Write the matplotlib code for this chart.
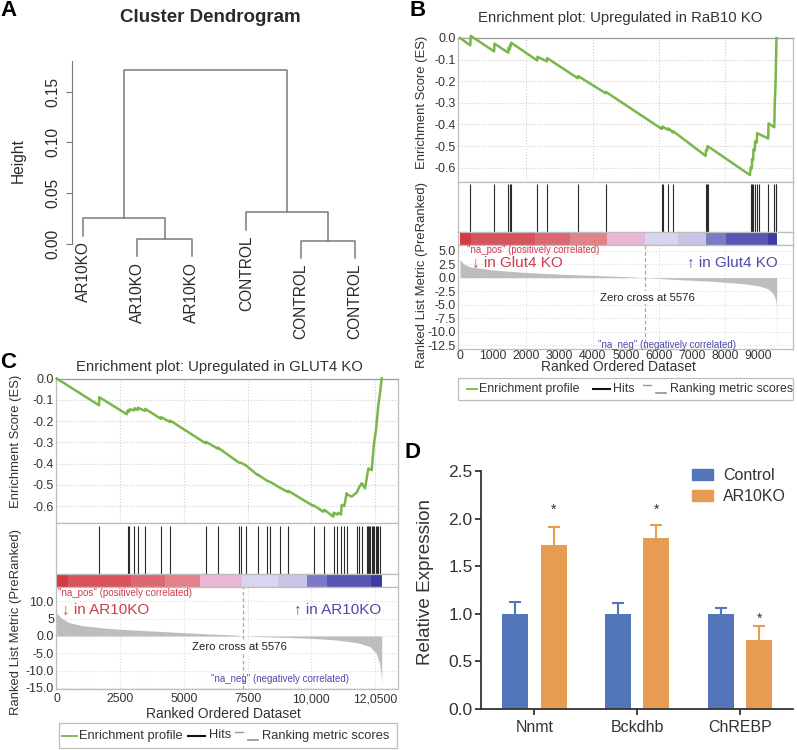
import numpy as np
import matplotlib
matplotlib.use("Agg")
import matplotlib.pyplot as plt
from matplotlib.patches import Rectangle, Patch

plt.rcParams['font.family'] = ['Liberation Sans', 'DejaVu Sans']

W, H = 797, 750

# ---------------- A: cluster dendrogram
dendro_labels = ["AR10KO", "AR10KO", "AR10KO", "CONTROL", "CONTROL", "CONTROL"]
# merge table like R hclust: negative = leaf, positive = earlier merge
dendro_merge = [(-2, -3), (-5, -6), (-1, 1), (-4, 2), (3, 4)]
dendro_height = [0.0046, 0.0027, 0.0251, 0.0310, 0.1711]
dendro_hang = 0.0171

# ---------------- B: GSEA, upregulated in RaB10 KO
b_es_rank = [0, 312, 322, 1030, 1040, 1455, 1465, 1505, 1515, 1535, 1545, 2330, 2340, 2620, 2630,
             3555, 3565, 4390, 4400, 6080, 6090, 6110, 6120, 6280, 6290, 6430, 6440, 7410, 7425,
             7455, 7470, 8750, 8771, 8805, 8815, 8845, 8855, 8895, 8905, 8955, 8966, 9300, 9310,
             9484, 9495, 9520, 9550]
b_es = [0.0, -0.034, 0.010, -0.062, -0.026, -0.068, -0.045, -0.052, -0.032, -0.035, -0.022,
        -0.104, -0.087, -0.108, -0.093, -0.186, -0.176, -0.255, -0.249, -0.420, -0.413, -0.417,
        -0.410, -0.425, -0.418, -0.437, -0.432, -0.545, -0.518, -0.520, -0.500, -0.634, -0.598,
        -0.602, -0.560, -0.565, -0.515, -0.520, -0.478, -0.483, -0.440, -0.465, -0.395, -0.413,
        -0.317, -0.216, 0.0]
b_hits = [312, 1036, 1459, 1509, 1539, 2333, 2625, 3561, 4395, 6085, 6116, 6286, 6437, 7413,
          7450, 7475, 8771, 8811, 8851, 8901, 8962, 9022, 9303, 9484, 9520, 9545]
b_metric_rank = [0, 100, 300, 1000, 2000, 3000, 4000, 5000, 5576, 6500, 7500, 8500, 9000, 9300,
                 9450, 9520, 9545, 9556]
b_metric = [3.37, 2.56, 1.98, 1.4, 0.93, 0.64, 0.41, 0.17, 0.0, -0.35, -0.64, -1.1, -1.5, -2.1,
            -3.0, -4.0, -4.9, -13.0]
b_bar_edges = [0, 332, 2263, 3320, 4446, 5582, 6588, 7423, 8027, 9285, 9556]
b_zero_cross = 5576

# ---------------- C: GSEA, upregulated in GLUT4 KO
c_es_rank = [0, 1661, 1673, 2750, 2789, 2851, 2860, 3048, 3060, 3181, 3190, 3468, 3480, 4097, 4105,
             4450, 4460, 5852, 5860, 6324, 6330, 7148, 7239, 7447, 7895, 7900, 8248, 8390, 8782,
             9097, 9110, 10079, 10106, 10472, 10511, 10864, 10880, 11021, 11061, 11166, 11194,
             11296, 11390, 11402, 11587, 11795, 11885, 11980, 12109, 12176, 12239, 12372, 12462,
             12541, 12632, 12698, 12765]
c_es = [0.0, -0.126, -0.088, -0.168, -0.150, -0.156, -0.145, -0.150, -0.140, -0.148, -0.138,
        -0.152, -0.143, -0.190, -0.182, -0.205, -0.198, -0.305, -0.298, -0.330, -0.325, -0.395,
        -0.397, -0.410, -0.455, -0.452, -0.480, -0.487, -0.515, -0.535, -0.530, -0.600, -0.598,
        -0.627, -0.618, -0.650, -0.632, -0.640, -0.632, -0.640, -0.595, -0.600, -0.540, -0.545,
        -0.556, -0.535, -0.510, -0.493, -0.517, -0.470, -0.423, -0.431, -0.305, -0.242, -0.125,
        -0.070, 0.0]
c_hits = [1673, 2789, 2851, 3048, 3181, 3468, 4097, 4450, 5852, 6324, 7148, 7239, 7447, 7895,
          8248, 8390, 8782, 9097, 10106, 10511, 10880, 11021, 11166, 11296, 11402, 11795, 11885,
          11980, 12176, 12227, 12278, 12320, 12390, 12430, 12474, 12530, 12580, 12632, 12687]
c_metric_rank = [0, 200, 500, 1000, 2000, 3000, 4000, 5000, 6000, 7000, 7330, 8000, 9000, 10000,
                 11000, 11800, 12300, 12550, 12680, 12740, 12765]
c_metric = [6.6, 5.1, 3.85, 3.0, 2.2, 1.73, 1.35, 0.96, 0.58, 0.29, 0.0, -0.2, -0.39, -0.67,
            -1.16, -1.93, -3.08, -5.0, -7.9, -10.8, -14.2]
c_bar_edges = [0, 432, 2918, 4254, 5640, 7290, 8704, 9831, 10617, 12345, 12760]
c_zero_cross = 7330

gsea_colors = ['#d23b45', '#d8535d', '#db6873', '#e08288', '#e9b7d3', '#d8d5ee', '#c8c4e5',
               '#7c79c5', '#5856b3', '#3d3aa2']

# ---------------- D: qPCR
genes = ["Nnmt", "Bckdhb", "ChREBP"]
control_mean = [1.0, 1.0, 1.0]
control_err = [0.12, 0.11, 0.06]
ko_mean = [1.72, 1.80, 0.725]
ko_err = [0.19, 0.13, 0.145]
star_y = [2.14, 2.14, 0.99]

GREEN = '#7ab648'
RED = '#d23a4c'
BLUE = '#4c4aa8'
FRAME = '#bdbdbd'


def px_box(x0, y0, x1, y1):
    return [x0 / W, 1 - y1 / H, (x1 - x0) / W, (y1 - y0) / H]


fig = plt.figure(figsize=(W / 100, H / 100), dpi=100)

# ---- A
axA = fig.add_axes(px_box(72, 55, 372, 262))
axA.set_xlim(0.798, 6.31)
axA.set_ylim(-0.018, 0.1862)
node_x, node_h = {}, {}
for k, ((a, b), h) in enumerate(zip(dendro_merge, dendro_height), start=1):
    pts = []
    for c in (a, b):
        if c < 0:
            pts.append((-c, h - dendro_hang))
        else:
            pts.append((node_x[c], node_h[c]))
    (xl, hl), (xr, hr) = pts
    axA.plot([xl, xl, xr, xr], [hl, h, h, hr], color='#7a7a7a', lw=1.1)
    node_x[k] = (xl + xr) / 2
    node_h[k] = h
    for c, (x, hc) in zip((a, b), pts):
        if c < 0:
            axA.annotate(dendro_labels[-c - 1], (x, hc), xytext=(0, -4), textcoords='offset points',
                         rotation=90, ha='center', va='top', fontsize=11.2, color='#2a2a2a')
for s in ['top', 'right', 'bottom']:
    axA.spines[s].set_visible(False)
axA.spines['left'].set_bounds(0, 0.18)
axA.spines['left'].set_color('#7a7a7a')
axA.set_xticks([])
axA.set_yticks([0.0, 0.05, 0.10, 0.15])
axA.set_yticklabels(['0.00', '0.05', '0.10', '0.15'])
axA.tick_params(axis='y', length=4, pad=4.5, color='#7a7a7a', labelsize=11.2, labelcolor='#2a2a2a')
for t in axA.get_yticklabels():
    t.set_rotation(90)
    t.set_va('center')
axA.patch.set_alpha(0)


# ---- GSEA panels
def gsea(x0, x1, ys, xlim, es_lim, es_rank, es, hits, m_rank, m_val, edges, zero_cross,
         m_lim, m_ticks, m_labels, x_ticks, x_labels, grid_x):
    es_top, es_bot, hit_bot, bar_bot, m_bot = ys
    ax1 = fig.add_axes(px_box(x0, es_top, x1, es_bot))
    ax2 = fig.add_axes(px_box(x0, es_bot, x1, hit_bot))
    ax3 = fig.add_axes(px_box(x0, hit_bot, x1, bar_bot))
    ax4 = fig.add_axes(px_box(x0, bar_bot, x1, m_bot))
    for ax in (ax1, ax2, ax3, ax4):
        ax.set_xlim(xlim)
        for s in ax.spines.values():
            s.set_color(FRAME)
            s.set_linewidth(0.9)
        ax.tick_params(length=0, labelsize=9, colors='#333333')

    ax1.plot(es_rank, es, color=GREEN, lw=1.8, clip_on=False, zorder=3)
    ax1.set_ylim(es_lim)
    ax1.spines['top'].set_color('#9a9a9a')
    ax1.set_yticks(np.arange(0, -0.65, -0.1))
    ax1.set_yticklabels(['0.0', '-0.1', '-0.2', '-0.3', '-0.4', '-0.5', '-0.6'])
    ax1.set_xticks(grid_x)
    ax1.tick_params(labelbottom=False, pad=1.5)
    ax1.grid(True, ls=':', color='#cfcfcf', lw=0.8)

    ax2.vlines(hits, 0, 0.95, color='#2a2a2a', lw=0.8)
    ax2.set_ylim(0, 1)
    ax2.set_xticks([])
    ax2.set_yticks([])

    for i in range(len(edges) - 1):
        ax3.axvspan(edges[i], edges[i + 1], color=gsea_colors[i], lw=0)
    ax3.set_xticks([])
    ax3.set_yticks([])

    ax4.fill_between(m_rank, m_val, 0, color='#bdbdbd', lw=0, zorder=2)
    ax4.axvline(zero_cross, ls=(0, (3, 2)), color='#a8a8a8', lw=0.9, zorder=1)
    for g in grid_x:
        ax4.axvline(g, ls=':', color='#dcdcdc', lw=0.8, zorder=0)
    ax4.set_ylim(m_lim)
    ax4.set_yticks(m_ticks)
    ax4.set_yticklabels(m_labels)
    ax4.yaxis.grid(True, ls=':', color='#dcdcdc', lw=0.8)
    ax4.set_axisbelow(True)
    ax4.set_xticks(x_ticks)
    ax4.set_xticklabels(x_labels)
    ax4.tick_params(pad=1.5, labelsize=9)
    ax4.tick_params(axis='x', labelsize=8.8)
    return ax4


axB4 = gsea(458, 793, (38, 181.7, 232.3, 245, 349), (-60, 10048), (-0.6647, 0.0),
            b_es_rank, b_es, b_hits, b_metric_rank, b_metric, b_bar_edges, b_zero_cross,
            (-13.2, 6.02), [5.0, 2.5, 0.0, -2.5, -5.0, -7.5, -10.0, -12.5],
            ['5.0', '2.5', '0.0', '-2.5', '-5.0', '-7.5', '-10.0', '-12.5'],
            list(range(0, 9001, 1000)), [str(v) for v in range(0, 9001, 1000)],
            [2000, 4000, 6000, 8000])
axB4.tick_params(axis='x', pad=0.5)

axC4 = gsea(56, 397.7, (378.5, 523.3, 574, 586.7, 689), (-27, 13393), (-0.6814, 0.0),
            c_es_rank, c_es, c_hits, c_metric_rank, c_metric, c_bar_edges, c_zero_cross,
            (-15.32, 14.25), [10.0, 5.0, 0.0, -5.0, -10.0, -15.0],
            ['10.0', '5', '0.0', '-5.0', '-10.0', '-15.0'],
            [0, 2500, 5000, 7500, 10000, 12500],
            ['0', '2500', '5000', '7500', '10,000', '12,0500'],
            [2500, 5000, 7500, 10000, 12500])
axC4.tick_params(axis='x', pad=3)

# ---- D
axD = fig.add_axes(px_box(481, 471, 793.3, 709))
x = np.arange(len(genes))
off, bw = 0.187, 0.252
c_blue, c_orange = '#5276b9', '#e69d52'
for pos, mean, err, col, lab in [(x - off, control_mean, control_err, c_blue, 'Control'),
                                  (x + off, ko_mean, ko_err, c_orange, 'AR10KO')]:
    cont = axD.bar(pos, mean, bw, color=col, label=lab, yerr=[np.zeros(3), err], capsize=4.4,
                   error_kw=dict(ecolor=col, elinewidth=1.5, capthick=1.5))
    caps = cont.errorbar.lines[1]
    caps[0].set_visible(False)   # one-sided bars: no lower cap
for xi, sy in zip(x, star_y):
    axD.annotate('*', (xi + off, sy), xytext=(0, -3), textcoords='offset points',
                 ha='center', va='center', fontsize=10, color='#333333')
axD.set_xlim(-0.52, 2.52)
axD.set_ylim(0, 2.5)
axD.set_yticks([0.0, 0.5, 1.0, 1.5, 2.0, 2.5])
axD.set_yticklabels(['0.0', '0.5', '1.0', '1.5', '2.0', '2.5'])
axD.set_xticks(x)
axD.set_xticklabels(genes)
for s in ['top', 'right']:
    axD.spines[s].set_visible(False)
for s in ['left', 'bottom']:
    axD.spines[s].set_color('#333333')
    axD.spines[s].set_linewidth(1.3)
axD.tick_params(axis='both', length=4, width=1.3, color='#333333', labelcolor='#333333')
axD.tick_params(axis='y', labelsize=12.5, pad=2)
axD.tick_params(axis='x', labelsize=11.5, pad=4)
axD.legend(handles=[Patch(color=c_blue, label='Control'), Patch(color=c_orange, label='AR10KO')],
           loc='upper left', bbox_to_anchor=(691.7 / W, 1 - 468 / H), bbox_transform=fig.transFigure,
           frameon=False, borderpad=0, borderaxespad=0, handlelength=1.35, handleheight=0.65,
           handletextpad=0.6, labelspacing=0.4, fontsize=11.5, labelcolor='#333333')

# ---- overlay: panel letters, titles, labels, GSEA legends
ov = fig.add_axes([0, 0, 1, 1])
ov.set_xlim(0, W)
ov.set_ylim(H, 0)
ov.axis('off')
ov.patch.set_alpha(0)

for letter, lx, ly in [('A', 9, 11), ('B', 418, 11), ('C', 8, 362.5), ('D', 413, 452)]:
    ov.text(lx, ly, letter, fontsize=16, fontweight='bold', ha='center', va='center')

ov.text(210, 17, 'Cluster Dendrogram', fontsize=13.5, fontweight='bold', ha='center', va='center',
        color='#2a2a2a')
ov.text(18, 160.5, 'Height', fontsize=11.2, rotation=90, ha='center', va='center', color='#2a2a2a')
ov.text(426, 581.7, 'Relative Expression', fontsize=13.6, rotation=90, ha='center', va='center',
        color='#333333')

gtxt = '#333333'
# B
ov.text(620, 18, 'Enrichment plot: Upregulated in RaB10 KO', fontsize=10.7, ha='center', va='center',
        color=gtxt)
ov.text(421.7, 102.5, 'Enrichment Score (ES)', fontsize=9.4, rotation=90, ha='center', va='center',
        color=gtxt)
ov.text(421.7, 275.5, 'Ranked List Metric (PreRanked)', fontsize=9.4, rotation=90, ha='center',
        va='center', color=gtxt)
ov.text(618, 367.3, 'Ranked Ordered Dataset', fontsize=10, ha='center', va='center', color=gtxt)
ov.text(466.7, 250, '"na_pos" (positively correlated)', fontsize=6.9, ha='left', va='center', color=RED)
ov.text(472.3, 261.7, '\u2193 in Glut4 KO', fontsize=11, ha='left', va='center', color=RED)
ov.text(777.7, 261.7, '\u2191 in Glut4 KO', fontsize=11, ha='right', va='center', color=BLUE)
ov.text(647.5, 297.7, 'Zero cross at 5576', fontsize=8.2, ha='center', va='center', color='#222222',
        bbox=dict(facecolor='white', edgecolor='none', pad=1))
ov.text(667.5, 345.5, '"na_neg" (negatively correlated)', fontsize=7, ha='center', va='center',
        color=BLUE)
# C
ov.text(219, 367, 'Enrichment plot: Upregulated in GLUT4 KO', fontsize=10.7, ha='center',
        va='center', color=gtxt)
ov.text(16, 441.7, 'Enrichment Score (ES)', fontsize=9.4, rotation=90, ha='center', va='center',
        color=gtxt)
ov.text(16, 621.7, 'Ranked List Metric (PreRanked)', fontsize=9.4, rotation=90, ha='center',
        va='center', color=gtxt)
ov.text(223.3, 714, 'Ranked Ordered Dataset', fontsize=10, ha='center', va='center', color=gtxt)
ov.text(58.3, 593.3, '"na_pos" (positively correlated)', fontsize=7, ha='left', va='center', color=RED)
ov.text(61.7, 609, '\u2193 in AR10KO', fontsize=11, ha='left', va='center', color=RED)
ov.text(381.7, 609, '\u2191 in AR10KO', fontsize=11, ha='right', va='center', color=BLUE)
ov.text(239.7, 647.3, 'Zero cross at 5576', fontsize=8.2, ha='center', va='center', color='#222222',
        bbox=dict(facecolor='white', edgecolor='none', pad=1))
ov.text(280, 679, '"na_neg" (negatively correlated)', fontsize=7, ha='center', va='center', color=BLUE)


def gsea_legend(bx0, bx1, by0, by1, g0, g1, k0, k1, t_hits, m0, m1, fs):
    yc = (by0 + by1) / 2
    ov.add_patch(Rectangle((bx0, by0), bx1 - bx0, by1 - by0, fill=False, edgecolor=FRAME, lw=0.9))
    ov.plot([g0, g1], [yc, yc], color=GREEN, lw=1.3)
    ov.text(g1 + 2.5, yc, 'Enrichment profile', fontsize=fs, ha='left', va='center', color=gtxt)
    ov.plot([k0, k1], [yc, yc], color='#111111', lw=1.5)
    ov.text(t_hits, yc, 'Hits', fontsize=fs, ha='left', va='center', color=gtxt)
    ov.plot([m0, m0 + 8], [yc - 4, yc - 4], color='#9a9a9a', lw=1.0)
    ov.plot([m0 + 13, m1], [yc + 4, yc + 4], color='#9a9a9a', lw=1.3)
    ov.text(m1 + 4, yc, 'Ranking metric scores', fontsize=fs, ha='left', va='center', color=gtxt)


gsea_legend(458.3, 793.3, 378.3, 399.5, 466.7, 476.7, 593.3, 610, 613.3, 643.3, 665.7, 8.9)
gsea_legend(59.3, 396.7, 722.7, 748.3, 61.7, 76.7, 188, 205, 209, 235, 258, 9.3)

fig.savefig('out.png', dpi=100)
